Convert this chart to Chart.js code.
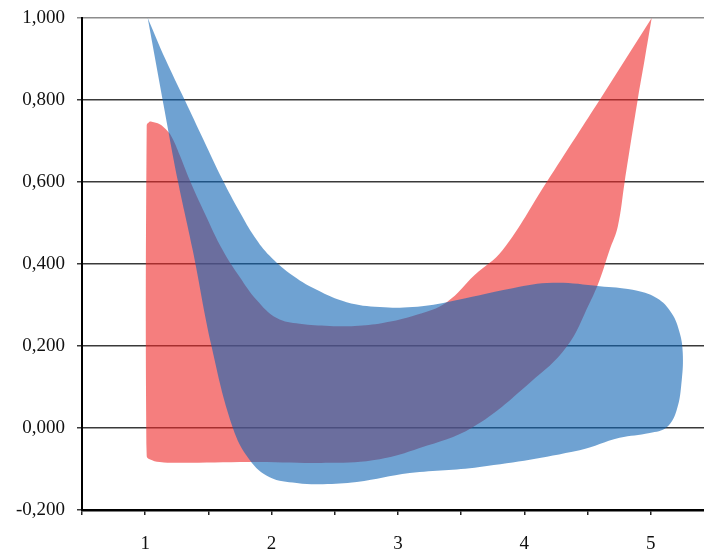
<!DOCTYPE html>
<html><head><meta charset="utf-8">
<script src="https://cdn.jsdelivr.net/npm/chart.js@4/dist/chart.umd.min.js"></script>
<style>html,body{margin:0;padding:0;background:#fff;overflow:hidden}#wrap{width:704px;height:551px}</style>
</head><body><div id="wrap"><canvas id="c" width="704" height="551"></canvas></div>
<script>
// Red shape outline (starts at the upper-right tip, goes along the lower edge, up the left edge, along the upper edge)
const redX = [5.008,4.952,4.897,4.794,4.739,4.675,4.596,4.517,4.335,4.042,3.592,3.172,2.856,2.460,1.827,1.273,1.115,1.035,1.012,1.012,1.030,1.051,1.115,1.162,1.210,1.273,1.352,1.471,1.613,1.748,1.882,2.041,2.223,2.460,2.658,2.880,3.148,3.386,3.607,3.829,4.177,4.596];
const redY = [1.000,0.898,0.800,0.600,0.490,0.434,0.361,0.305,0.198,0.110,0.002,-0.049,-0.076,-0.085,-0.083,-0.085,-0.083,-0.076,-0.068,0.738,0.746,0.747,0.741,0.729,0.710,0.666,0.605,0.524,0.434,0.368,0.312,0.268,0.254,0.249,0.249,0.256,0.276,0.307,0.373,0.434,0.600,0.800];
// Blue shape outline (starts at the upper-left tip, goes along the upper edge, round the right end, back along the lower edge and up the left edge)
const blueX = [1.020,1.162,1.313,1.463,1.613,1.748,1.866,1.985,2.144,2.357,2.594,2.856,3.117,3.386,3.908,4.225,4.596,4.857,5.047,5.166,5.230,5.254,5.246,5.206,5.127,4.992,4.754,4.438,3.647,3.093,2.674,2.405,2.199,1.985,1.827,1.692,1.526,1.376,1.257,1.138];
const blueY = [1.000,0.898,0.800,0.702,0.605,0.527,0.466,0.420,0.377,0.337,0.307,0.295,0.295,0.307,0.341,0.354,0.346,0.337,0.317,0.280,0.232,0.183,0.117,0.044,0.002,-0.012,-0.024,-0.054,-0.095,-0.110,-0.132,-0.137,-0.134,-0.120,-0.078,0.002,0.198,0.434,0.605,0.800];
const xTickValues = [0.5,1,1.5,2,2.5,3,3.5,4,4.5,5];
const xTickLabels = ['','1','','2','','3','','4','','5'];
const yTickValues = [-0.2,0,0.2,0.4,0.6,0.8,1.0];
const yTickLabels = ['-0,200','0,000','0,200','0,400','0,600','0,800','1,000'];

const toPts = (xs, ys) => xs.map((x, i) => ({x: x, y: ys[i]}));
const FONT = {family: "'Liberation Serif', 'DejaVu Serif', serif", size: 19};

new Chart(document.getElementById('c'), {
  type: 'scatter',
  data: {
    datasets: [
      {data: toPts(blueX, blueY), showLine: true, fill: 'shape', tension: 0.4,
       backgroundColor: 'rgba(15,100,180,0.6)', borderColor: 'rgba(0,0,0,0)', borderWidth: 0, pointRadius: 0},
      {data: toPts(redX, redY), showLine: true, fill: 'shape', tension: 0.4,
       backgroundColor: 'rgba(238,40,40,0.6)', borderColor: 'rgba(0,0,0,0)', borderWidth: 0, pointRadius: 0}
    ]
  },
  options: {
    responsive: false, animation: false, devicePixelRatio: 1,
    layout: {padding: {top: 18, right: 0, bottom: 0, left: 0}},
    plugins: {legend: {display: false}, tooltip: {enabled: false}},
    scales: {
      x: {
        type: 'linear', min: 0.5, max: 5.422,
        afterBuildTicks: s => { s.ticks = xTickValues.map(v => ({value: v})); },
        afterFit: s => { s.height = 41; s.paddingLeft = 0; s.paddingRight = 0; },
        ticks: {callback: (v, i) => xTickLabels[i], font: FONT, color: '#111', padding: 18, maxRotation: 0, autoSkip: false},
        grid: {drawOnChartArea: false, drawTicks: true, tickLength: 5, color: '#222', tickColor: '#222', lineWidth: 1.5},
        border: {color: '#000', width: 2.5}
      },
      y: {
        type: 'linear', min: -0.2, max: 1.0,
        afterBuildTicks: s => { s.ticks = yTickValues.map(v => ({value: v})); },
        afterFit: s => { s.width = 82; s.paddingTop = 0; s.paddingBottom = 0; },
        ticks: {callback: (v, i) => yTickLabels[i], font: FONT, color: '#111', padding: 12},
        grid: {color: c => (c.tick && c.tick.value === 1) ? '#8c8c8c' : '#3a3a3a', lineWidth: 1.5, tickLength: 5, drawTicks: true},
        border: {color: '#000', width: 2}
      }
    }
  }
});
</script></body></html>
